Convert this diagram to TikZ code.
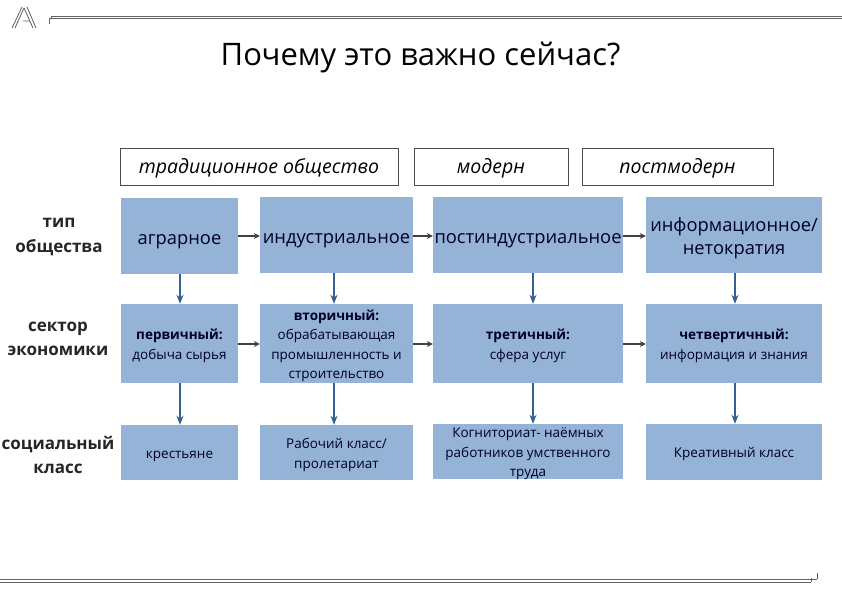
\documentclass[tikz,border=0pt]{standalone}
\usepackage{fontspec}
\setmainfont{Open Sans}
\usepackage{xcolor}
\usetikzlibrary{arrows.meta}
\definecolor{boxblue}{HTML}{95B3D7}
\definecolor{arrowblue}{HTML}{376092}
\definecolor{arrowgray}{HTML}{404040}
\definecolor{framegray}{HTML}{606060}
\newcommand{\lowered}[2][2pt]{\raisebox{-#1}[\height][\depth]{\begin{tabular}{@{}c@{}}#2\end{tabular}}}
\tikzset{
    sectorbox/.style = {fill = boxblue, inner sep = 0pt, align = center, text = black!85!blue},
    erabox/.style = {draw = black!70, fill = white, inner sep = 0pt, font = \fontsize{19.5}{23}\selectfont\itshape},
    rowlabel/.style = {inner sep = 0pt, align = center, font = \fontsize{17}{24.5}\selectfont\bfseries, text = black!85},
    nextarrow/.style = {-{Stealth[length = 6pt, width = 6pt]}, line width = 1.6pt, color = arrowgray},
    downarrow/.style = {-{Stealth[length = 9pt, width = 7pt]}, line width = 1.8pt, color = arrowblue},
    framerule/.style = {color = framegray, line width = 0.7pt},
    big/.style = {font = \fontsize{18.3}{23.5}\selectfont},
    small/.style = {font = \fontsize{13.5}{19.5}\selectfont}
}
\begin{document}
\begin{tikzpicture}[x = 1pt, y = -1pt]
            \useasboundingbox (0, 0) rectangle (842, 595);

            % frame and logo
            \draw[framerule] (49, 24) -- (49, 18) -- (51, 18) -- (51, 16) -- (842, 16)
                (51, 18.5) -- (842, 18.5);
            \draw[framerule] (0, 579) -- (817, 579) (0, 582) -- (811, 582)
                (817, 573) -- (817, 579) (811, 582) -- (811, 578) (811, 579) -- (814, 579);
            \draw[color = framegray, line width = 0.8pt] (12, 28) -- (22, 7) (15, 28) -- (24, 8)
                (33, 28) -- (24, 8) (36, 28) -- (27, 7) (23, 21) -- (29, 21);

            \node (title) at (420.5, 58) {\fontsize{31}{36}\selectfont Почему это важно сейчас?};

            % column heads
            \node[erabox, minimum width = 278pt, minimum height = 37pt] (traditional) at (259, 166.5) {\lowered{традиционное общество}};
            \node[erabox, minimum width = 154pt, minimum height = 37pt] (modern) at (491, 166.5) {\lowered{модерн}};
            \node[erabox, minimum width = 191pt, minimum height = 37pt] (postmodern) at (677.5, 166.5) {\lowered{постмодерн}};

            % row labels
            \node[rowlabel] (typelabel) at (59, 237) {тип\\общества};
            \node[rowlabel] (sectorlabel) at (58, 339) {сектор\\экономики};
            \node[rowlabel] (classlabel) at (58, 455) {социальный\\класс};

            % society types
            \node[sectorbox, big, minimum width = 117pt, minimum height = 76pt] (agrarian) at (179.5, 236) {\lowered[3.5pt]{аграрное}};
            \node[sectorbox, big, minimum width = 153pt, minimum height = 76pt] (industrial) at (336.5, 235) {\lowered[3.5pt]{индустриальное}};
            \node[sectorbox, big, minimum width = 190pt, minimum height = 76pt] (postindustrial) at (528, 235) {\lowered[3.5pt]{постиндустриальное}};
            \node[sectorbox, big, minimum width = 176pt, minimum height = 76pt] (information) at (734, 235) {\lowered[3.5pt]{информационное/\\нетократия}};

            % economy sectors
            \node[sectorbox, small, minimum width = 117pt, minimum height = 79pt] (primary) at (179.5, 343.5) {\lowered{\textbf{первичный:}\\добыча сырья}};
            \node[sectorbox, small, minimum width = 153pt, minimum height = 79pt] (secondary) at (336.5, 343.5) {\lowered{\textbf{вторичный:}\\обрабатывающая\\промышленность и\\строительство}};
            \node[sectorbox, small, minimum width = 190pt, minimum height = 79pt] (tertiary) at (528, 343.5) {\lowered{\textbf{третичный:}\\сфера услуг}};
            \node[sectorbox, small, minimum width = 176pt, minimum height = 79pt] (quaternary) at (734, 343.5) {\lowered{\textbf{четвертичный:}\\информация и знания}};

            % social classes
            \node[sectorbox, small, minimum width = 117pt, minimum height = 55pt] (peasants) at (179.5, 452.5) {\lowered{крестьяне}};
            \node[sectorbox, small, minimum width = 153pt, minimum height = 55pt] (workers) at (336.5, 452.5) {\lowered{Рабочий класс/\\пролетариат}};
            \node[sectorbox, small, minimum width = 190pt, minimum height = 55pt, text height = 24pt, text depth = 17.5pt] (cognitariat) at (528, 451.5) {\lowered{Когниториат- наёмных\\работников умственного\\труда}};
            \node[sectorbox, small, minimum width = 176pt, minimum height = 56pt] (creative) at (734, 452) {\lowered{Креативный класс}};

            \draw[nextarrow] (agrarian.east |- 0, 236) -- (industrial.west |- 0, 236);
            \draw[nextarrow] (industrial.east |- 0, 236) -- (postindustrial.west |- 0, 236);
            \draw[nextarrow] (postindustrial.east |- 0, 236) -- (information.west |- 0, 236);
            \draw[nextarrow] (primary.east |- 0, 344) -- (secondary.west |- 0, 344);
            \draw[nextarrow] (secondary.east |- 0, 344) -- (tertiary.west |- 0, 344);
            \draw[nextarrow] (tertiary.east |- 0, 344) -- (quaternary.west |- 0, 344);

            \draw[downarrow] (agrarian.south -| 180, 0) -- (primary.north -| 180, 0);
            \draw[downarrow] (primary.south -| 180, 0) -- (peasants.north -| 180, 0);
            \draw[downarrow] (industrial.south -| 334, 0) -- (secondary.north -| 334, 0);
            \draw[downarrow] (secondary.south -| 334, 0) -- (workers.north -| 334, 0);
            \draw[downarrow] (postindustrial.south -| 533, 0) -- (tertiary.north -| 533, 0);
            \draw[downarrow] (tertiary.south -| 533, 0) -- (cognitariat.north -| 533, 0);
            \draw[downarrow] (information.south -| 735, 0) -- (quaternary.north -| 735, 0);
            \draw[downarrow] (quaternary.south -| 735, 0) -- (creative.north -| 735, 0);
        \end{tikzpicture}
\end{document}
